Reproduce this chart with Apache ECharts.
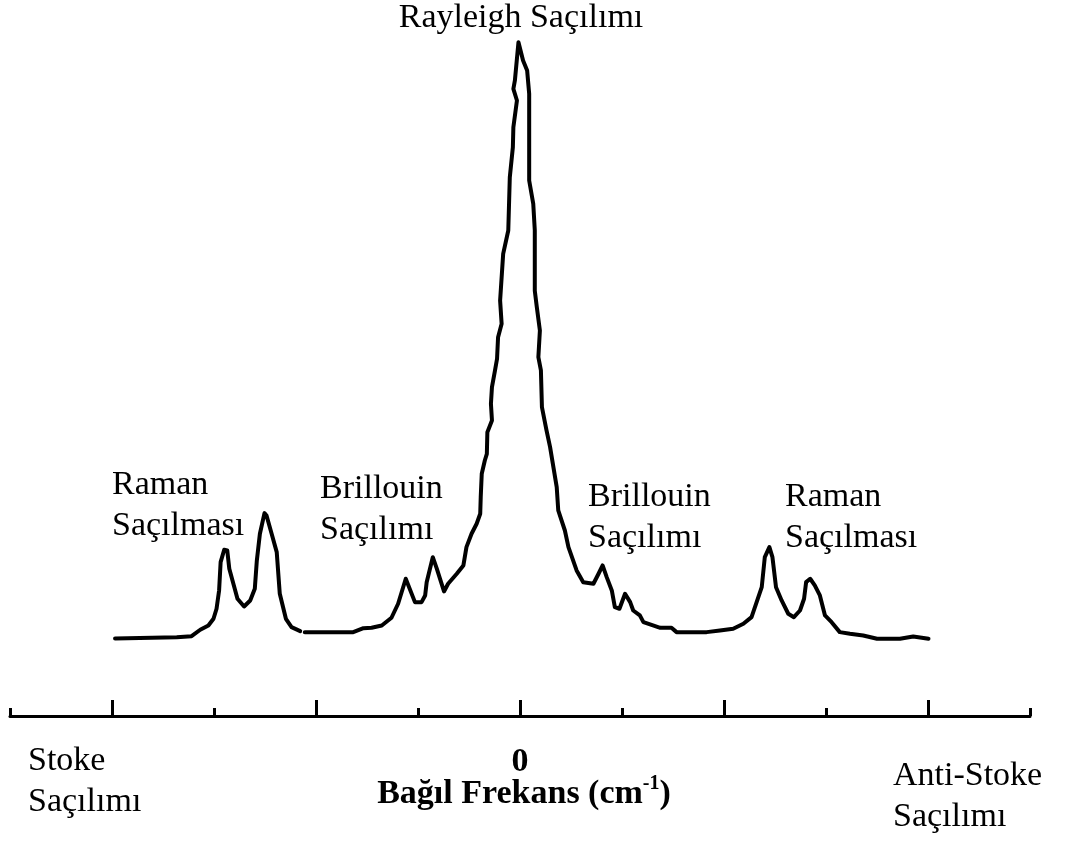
<!DOCTYPE html>
<html>
<head>
<meta charset="utf-8">
<script src="https://cdn.jsdelivr.net/npm/echarts@6/dist/echarts.min.js"></script>
<style>
  html, body { margin: 0; padding: 0; background: #fff; }
  #chart { width: 1065px; height: 845px; }
</style>
</head>
<body>
<div id="chart"></div>
<script>
// Relative frequency (axis units, 0 = Rayleigh line) and intensity (arbitrary units)
const stokesRamanSegment = [
  [-7.94, 0.0], [-6.73, 0.22], [-6.44, 0.39], [-6.27, 1.46], [-6.11, 2.18], [-6.01, 3.30],
  [-5.95, 4.98], [-5.90, 8.05], [-5.87, 12.79], [-5.80, 14.87], [-5.74, 14.75], [-5.70, 11.68],
  [-5.62, 9.17], [-5.54, 6.66], [-5.41, 5.36], [-5.29, 6.37], [-5.20, 8.33], [-5.16, 13.08],
  [-5.10, 17.55], [-5.01, 21.01], [-4.97, 20.62], [-4.87, 17.55], [-4.77, 14.47], [-4.71, 7.49],
  [-4.59, 3.30], [-4.48, 1.89], [-4.31, 1.22]
];
const centralSegment = [
  [-4.22, 1.05], [-3.27, 1.05], [-3.07, 1.73], [-2.91, 1.79], [-2.71, 2.18], [-2.52, 3.47],
  [-2.39, 5.82], [-2.24, 10.01], [-2.06, 6.09], [-1.93, 6.09], [-1.86, 7.21], [-1.83, 9.44],
  [-1.71, 13.63], [-1.63, 11.68], [-1.49, 7.88], [-1.41, 9.17], [-1.24, 10.85], [-1.11, 12.24],
  [-1.05, 15.31], [-0.95, 17.55], [-0.85, 19.23], [-0.78, 20.91], [-0.77, 23.69], [-0.75, 27.61],
  [-0.69, 29.84], [-0.65, 30.96], [-0.64, 34.58], [-0.55, 36.55], [-0.57, 39.35], [-0.55, 42.13],
  [-0.49, 44.93], [-0.45, 46.89], [-0.43, 50.51], [-0.36, 52.76], [-0.39, 56.66], [-0.33, 64.49],
  [-0.23, 68.40], [-0.20, 77.33], [-0.14, 82.36], [-0.13, 85.72], [-0.06, 90.19], [-0.13, 92.15],
  [-0.10, 93.55], [-0.03, 99.97], [0.06, 96.90], [0.14, 95.22], [0.18, 91.32], [0.18, 76.78],
  [0.26, 72.87], [0.29, 68.40], [0.29, 58.30], [0.33, 55.54], [0.39, 51.63], [0.36, 47.16],
  [0.41, 44.93], [0.43, 38.78], [0.52, 34.87], [0.59, 32.07], [0.72, 25.36], [0.75, 21.46],
  [0.88, 18.10], [0.95, 15.31], [1.11, 11.40], [1.24, 9.44], [1.44, 9.17], [1.54, 10.85],
  [1.62, 12.24], [1.70, 10.28], [1.80, 8.05], [1.86, 5.25], [1.95, 4.98], [2.06, 7.49],
  [2.16, 6.09], [2.22, 4.69], [2.35, 3.86], [2.42, 2.73], [2.55, 2.35], [2.75, 1.79],
  [2.97, 1.79], [3.07, 1.06], [3.66, 1.06], [3.92, 1.34], [4.18, 1.63], [4.38, 2.46],
  [4.54, 3.57], [4.64, 6.09], [4.74, 8.60], [4.80, 13.63], [4.89, 15.31], [4.95, 13.63],
  [5.02, 8.60], [5.13, 6.37], [5.26, 4.14], [5.37, 3.57], [5.49, 4.69], [5.57, 6.66],
  [5.61, 9.44], [5.69, 10.01], [5.78, 8.89], [5.88, 7.21], [5.98, 3.86], [6.11, 2.73],
  [6.27, 1.06], [6.47, 0.79], [6.73, 0.50], [7.00, -0.05], [7.45, -0.05], [7.71, 0.34],
  [8.01, -0.05]
];
const xMin = -10, xMax = 10, tickStep = 2;
const majorTicks = [-8, -4, 0, 4, 8];
const labelTicks = [0];
const axisTitle = ['Bağıl Frekans (cm', '-1', ')'];
const peakLabels = [
  { text: 'Rayleigh Saçılımı', x: 521, y: 18, align: 'center', vAlign: 'middle' },
  { text: 'Raman\nSaçılması', x: 112, y: 465, align: 'left', vAlign: 'top' },
  { text: 'Brillouin\nSaçılımı', x: 320, y: 469, align: 'left', vAlign: 'top' },
  { text: 'Brillouin\nSaçılımı', x: 588, y: 477, align: 'left', vAlign: 'top' },
  { text: 'Raman\nSaçılması', x: 785, y: 477, align: 'left', vAlign: 'top' },
  { text: 'Stoke\nSaçılımı', x: 28, y: 741, align: 'left', vAlign: 'top' },
  { text: 'Anti-Stoke\nSaçılımı', x: 893, y: 756, align: 'left', vAlign: 'top' }
];

const FONT = '"Liberation Serif", "Times New Roman", serif';
const chart = echarts.init(document.getElementById('chart'), null, { renderer: 'canvas' });

const graphics = peakLabels.map(l => ({
  type: 'text',
  z: 10,
  style: {
    text: l.text, x: l.x, y: l.y,
    textAlign: l.align, textVerticalAlign: l.vAlign, verticalAlign: l.vAlign,
    fontFamily: FONT, fontSize: 34, lineHeight: 41, fill: '#000'
  }
}));
graphics.push({
  type: 'text',
  z: 10,
  style: {
    text: '{b|' + axisTitle[0] + '}{s|' + axisTitle[1] + '}{b|' + axisTitle[2] + '}',
    x: 524, y: 774, textAlign: 'center', textVerticalAlign: 'top', verticalAlign: 'top',
    fill: '#000',
    rich: {
      b: { fontFamily: FONT, fontSize: 34, fontWeight: 'bold', lineHeight: 40, fill: '#000' },
      s: { fontFamily: FONT, fontSize: 20, fontWeight: 'bold', lineHeight: 8, verticalAlign: 'top', fill: '#000' }
    }
  }
});

const baseLineStyle = { color: '#000', width: 4, cap: 'round', join: 'round' };

chart.setOption({
  animation: false,
  backgroundColor: '#fff',
  grid: { left: 10, right: 35, top: 42, bottom: 129, containLabel: false },
  xAxis: [
    {
      type: 'value', min: xMin, max: xMax, interval: tickStep,
      axisLine: { show: true, onZero: false, lineStyle: { color: '#000', width: 3 } },
      axisTick: { show: true, inside: true, length: 8, lineStyle: { color: '#000', width: 3 } },
      axisLabel: {
        show: true, customValues: labelTicks, margin: 29,
        fontFamily: FONT, fontSize: 34, fontWeight: 'bold', color: '#000'
      },
      splitLine: { show: false }
    },
    {
      type: 'value', min: xMin, max: xMax, interval: tickStep, position: 'bottom',
      axisLine: { show: false, onZero: false },
      axisTick: { show: true, inside: true, length: 16, customValues: majorTicks,
                  lineStyle: { color: '#000', width: 3 } },
      axisLabel: { show: false },
      splitLine: { show: false }
    }
  ],
  yAxis: { type: 'value', min: -13, max: 100, show: false, splitLine: { show: false } },
  series: [
    { type: 'line', data: stokesRamanSegment, showSymbol: false, symbol: 'none',
      lineStyle: baseLineStyle, xAxisIndex: 0 },
    { type: 'line', data: centralSegment, showSymbol: false, symbol: 'none',
      lineStyle: baseLineStyle, xAxisIndex: 0 }
  ],
  graphic: graphics
});
</script>
</body>
</html>
